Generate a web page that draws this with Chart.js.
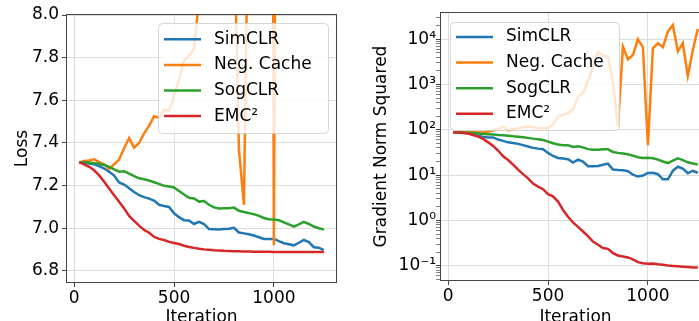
<!DOCTYPE html>
<html>
<head>
<meta charset="utf-8">
<script src="https://cdn.jsdelivr.net/npm/chart.js@4.4.0/dist/chart.umd.min.js"></script>
<style>
    html, body { margin: 0; padding: 0; background: #fff; overflow: hidden; width: 699px; height: 321px; }
    #wrapLoss { position: absolute; left: 0; top: 0; width: 350px; height: 328px; }
    #wrapGrad { position: absolute; left: 349px; top: 0; width: 370px; height: 328px; }
</style>
</head>
<body>
<div id="wrapLoss"><canvas id="lossChart"></canvas></div>
<div id="wrapGrad"><canvas id="gradChart"></canvas></div>
<script>
// data
const iterations = [25, 50, 75, 100, 125, 150, 175, 200, 225, 250, 275, 300, 325, 350, 375, 400, 425, 450, 475, 500,
    525, 550, 575, 600, 625, 650, 675, 700, 725, 750, 775, 800, 825, 850, 875, 900, 925, 950, 975, 1000,
    1025, 1050, 1075, 1100, 1125, 1150, 1175, 1200, 1225, 1250];

const seriesNames = ['SimCLR', 'Neg. Cache', 'SogCLR', 'EMC\u00B2'];
const seriesColors = ['#1f77b4', '#ff7f0e', '#2ca02c', '#d62728'];

// loss
const lossSimCLR = [7.309, 7.307, 7.304, 7.300, 7.291, 7.280, 7.265, 7.247, 7.215, 7.205, 7.188, 7.170, 7.155, 7.146, 7.139, 7.130, 7.110, 7.104, 7.100, 7.070,
    7.052, 7.038, 7.036, 7.020, 7.030, 7.020, 6.996, 6.995, 6.994, 6.996, 6.998, 7.002, 6.980, 6.976, 6.972, 6.966, 6.958, 6.950, 6.950, 6.950,
    6.940, 6.930, 6.925, 6.920, 6.932, 6.945, 6.935, 6.911, 6.909, 6.897];
const lossNegCache = [7.309, 7.315, 7.318, 7.323, 7.310, 7.300, 7.278, 7.300, 7.322, 7.375, 7.423, 7.378, 7.400, 7.445, 7.480, 7.525, 7.518, 7.556, 7.552, 7.620,
    7.700, 7.785, 7.810, 7.840, 8.07, 8.3, 8.6, 8.9, 9.3, 9.6, 9.1, 8.45, 7.37, 7.11, 8.8, 9.5, 10.2, 12.5, 15.0, 6.92,
    12.3, 13.0, 12.5, 14.0, 15.0, 13.0, 13.5, 11.5, 13.0, 14.5];
const lossSogCLR = [7.309, 7.309, 7.308, 7.305, 7.302, 7.297, 7.288, 7.276, 7.265, 7.267, 7.256, 7.245, 7.234, 7.230, 7.224, 7.216, 7.208, 7.199, 7.196, 7.191,
    7.175, 7.158, 7.143, 7.140, 7.125, 7.128, 7.110, 7.098, 7.093, 7.094, 7.094, 7.097, 7.082, 7.076, 7.071, 7.066, 7.058, 7.048, 7.042, 7.041,
    7.038, 7.028, 7.018, 7.008, 7.018, 7.030, 7.020, 7.008, 7.000, 6.994];
const lossEMC2 = [7.309, 7.300, 7.288, 7.272, 7.248, 7.218, 7.187, 7.155, 7.124, 7.093, 7.058, 7.035, 7.012, 6.992, 6.979, 6.960, 6.950, 6.945, 6.936, 6.931,
    6.926, 6.918, 6.912, 6.908, 6.904, 6.901, 6.899, 6.897, 6.896, 6.894, 6.893, 6.892, 6.892, 6.891, 6.891, 6.890, 6.890, 6.890, 6.890, 6.889,
    6.889, 6.889, 6.889, 6.889, 6.889, 6.889, 6.889, 6.889, 6.889, 6.889];

// gradient norm squared
const gradSimCLR = [88, 87.5, 86, 84, 79, 74, 70, 68, 68, 61, 57, 53, 51, 49, 46, 43, 40, 38.5, 37.5, 31,
    26.5, 24, 23.3, 22.5, 19, 22, 20, 15.8, 15.8, 16, 17, 18, 13.3, 13, 12.8, 12.3, 10.2, 9.3, 9.8, 11.2,
    11.3, 10.5, 8.1, 8.1, 12.5, 15.3, 14, 11, 12.5, 11.3];
const gradNegCache = [88, 89, 90, 91, 90, 88, 87, 92, 96, 106, 118, 97, 103, 108, 114, 118, 115, 109, 110, 110,
    130, 200, 215, 235, 280, 540, 650, 1200, 2500, 5300, 4400, 4150, 1150, 118, 6900, 3600, 4500, 10000, 6700, 46,
    6300, 8200, 6700, 14700, 20700, 5400, 8200, 1550, 5800, 17000];
const gradSogCLR = [88, 88, 87.5, 86.5, 85, 83, 81.5, 80, 78.5, 77, 76, 74, 72, 70.5, 69, 66.5, 64, 62, 59.5, 55,
    50.5, 47.5, 46, 46, 42, 43.5, 41, 37.5, 36.5, 36.5, 37.2, 37.5, 32.5, 31, 30, 29, 27, 24.8, 24, 24.2,
    23.5, 22, 20, 18.5, 21, 23.5, 21.5, 19.2, 18, 17.2];
const gradEMC2 = [88, 87, 85, 83, 77, 71, 63, 53, 44, 35, 26, 21.5, 17, 13.2, 10.5, 8.5, 6.5, 5.6, 4.9, 3.8,
    3.4, 2.6, 1.7, 1.2, 0.9, 0.72, 0.57, 0.45, 0.34, 0.29, 0.245, 0.235, 0.19, 0.168, 0.16, 0.152, 0.138, 0.12, 0.113, 0.111,
    0.112, 0.108, 0.105, 0.101, 0.099, 0.097, 0.095, 0.093, 0.091, 0.091];

// ticks
const xTicks = [0, 500, 1000];
const xTickLabels = ['0', '500', '1000'];
const lossTicks = [6.8, 7.0, 7.2, 7.4, 7.6, 7.8, 8.0];
const lossTickLabels = ['6.8', '7.0', '7.2', '7.4', '7.6', '7.8', '8.0'];
const gradTicks = [0.1, 1, 10, 100, 1000, 10000];
const gradTickLabels = ['10\u207B\u00B9', '10\u2070', '10\u00B9', '10\u00B2', '10\u00B3', '10\u2074'];

const FONT = 'DejaVu Sans';
Chart.defaults.color = '#000';
Chart.defaults.font.family = FONT;
Chart.defaults.font.size = 17;

// frame round the plot area (all 4 spines)
const frame = {
    id: 'frame',
    afterDatasetsDraw(chart) {
        const a = chart.chartArea;
        const ctx = chart.ctx;
        ctx.save();
        ctx.strokeStyle = '#444';
        ctx.lineWidth = 1;
        ctx.strokeRect(Math.round(a.left) - 0.5, Math.round(a.top) - 0.5, Math.round(a.right - a.left) + 1, Math.round(a.bottom - a.top) + 1);
        ctx.restore();
    }
};

// legend drawn inside the plot, semi transparent box
const boxLegend = {
    id: 'boxLegend',
    afterDatasetsDraw(chart, args, opts) {
        const a = chart.chartArea;
        const ctx = chart.ctx;
        const x0 = opts.side === 'right' ? a.right - opts.inset - opts.width : a.left + opts.inset;
        const y0 = a.top + opts.inset;
        ctx.save();
        ctx.beginPath();
        ctx.roundRect(Math.round(x0) + 0.5, Math.round(y0) + 0.5, opts.width, opts.height, 4);
        ctx.fillStyle = 'rgba(255,255,255,0.8)';
        ctx.fill();
        ctx.strokeStyle = 'rgba(204,204,204,0.8)';
        ctx.lineWidth = 1;
        ctx.stroke();
        ctx.font = '17px "' + FONT + '"';
        ctx.textBaseline = 'middle';
        ctx.textAlign = 'left';
        chart.data.datasets.forEach((ds, i) => {
            const y = y0 + opts.first + i * opts.row;
            ctx.strokeStyle = ds.borderColor;
            ctx.lineWidth = 2.5;
            ctx.beginPath();
            ctx.moveTo(x0 + 6, y);
            ctx.lineTo(x0 + 43, y);
            ctx.stroke();
            ctx.fillStyle = '#000';
            ctx.fillText(ds.label, x0 + 56, y);
        });
        ctx.restore();
    }
};

function makeDatasets(list) {
    return list.map((vals, i) => ({
        label: seriesNames[i],
        data: iterations.map((it, k) => ({ x: it, y: vals[k] })),
        borderColor: seriesColors[i],
        backgroundColor: seriesColors[i],
        borderWidth: 2.5,
        pointRadius: 0,
        tension: 0,
        fill: false,
        order: 4 - i
    }));
}

function xScale(height) {
    return {
        type: 'linear',
        min: -36,
        max: 1311,
        afterFit: s => { s.height = height; },
        afterBuildTicks: s => { s.ticks = xTicks.map(v => ({ value: v })); },
        ticks: {
            autoSkip: false,
            maxRotation: 0,
            padding: 1,
            callback: v => xTickLabels[xTicks.indexOf(v)]
        },
        grid: { color: '#dcdcdc', tickColor: '#444', tickLength: 5, lineWidth: 1 },
        border: { display: false },
        title: { display: true, text: 'Iteration', font: { size: 17 }, padding: { top: 0, bottom: 0 } }
    };
}

// left: loss
new Chart(document.getElementById('lossChart'), {
    type: 'line',
    data: { datasets: makeDatasets([lossSimCLR, lossNegCache, lossSogCLR, lossEMC2]) },
    options: {
        animation: false,
        responsive: true,
        maintainAspectRatio: false,
        layout: { padding: { top: 15, right: 14, left: 0, bottom: 0 } },
        plugins: {
            legend: { display: false },
            tooltip: { enabled: false },
            boxLegend: { side: 'right', inset: 8, width: 170, height: 110, first: 16.3, row: 25.6 }
        },
        scales: {
            x: xScale(46),
            y: {
                type: 'linear',
                min: 6.748,
                max: 8.0,
                afterFit: s => { s.width = 67; },
                afterBuildTicks: s => { s.ticks = lossTicks.map(v => ({ value: v })); },
                ticks: {
                    autoSkip: false,
                    padding: 3,
                    callback: v => lossTickLabels[lossTicks.indexOf(v)]
                },
                grid: { color: '#dcdcdc', tickColor: '#444', tickLength: 5, lineWidth: 1 },
                border: { display: false },
                title: { display: true, text: 'Loss', font: { size: 17 }, padding: { top: 12, bottom: 0 } }
            }
        }
    },
    plugins: [frame, boxLegend]
});

// right: gradient norm squared, log axis
new Chart(document.getElementById('gradChart'), {
    type: 'line',
    data: { datasets: makeDatasets([gradSimCLR, gradNegCache, gradSogCLR, gradEMC2]) },
    options: {
        animation: false,
        responsive: true,
        maintainAspectRatio: false,
        layout: { padding: { top: 13, right: 9, left: 0, bottom: 0 } },
        plugins: {
            legend: { display: false },
            tooltip: { enabled: false },
            boxLegend: { side: 'left', inset: 9, width: 169, height: 108, first: 15, row: 25.6 }
        },
        scales: {
            x: xScale(48),
            y: {
                type: 'logarithmic',
                min: 0.0483,
                max: 38100,
                afterFit: s => { s.width = 92; },
                afterBuildTicks: s => {
                    const t = [];
                    gradTicks.forEach(v => t.push({ value: v, major: true }));
                    // minor ticks 2..9 x 10^n
                    for (let e = -2; e <= 4; e++) {
                        for (let m = 2; m <= 9; m++) {
                            const v = m * Math.pow(10, e);
                            if (v >= s.min && v <= s.max) t.push({ value: v, major: false });
                        }
                    }
                    t.sort((p, q) => p.value - q.value);
                    s.ticks = t;
                },
                ticks: {
                    autoSkip: false,
                    padding: 0,
                    callback: v => {
                        const k = gradTicks.indexOf(v);
                        return k >= 0 ? gradTickLabels[k] : '';
                    }
                },
                grid: {
                    color: c => (c.tick && c.tick.major) ? '#dcdcdc' : 'rgba(0,0,0,0)',
                    tickColor: '#444',
                    tickWidth: c => (c.tick && c.tick.major) ? 1 : 0.7,
                    tickLength: 5,
                    lineWidth: 1
                },
                border: { display: false },
                title: { display: true, text: 'Gradient Norm Squared', font: { size: 17 }, padding: { top: 22, bottom: 0 } }
            }
        }
    },
    plugins: [frame, boxLegend]
});
</script>
</body>
</html>
